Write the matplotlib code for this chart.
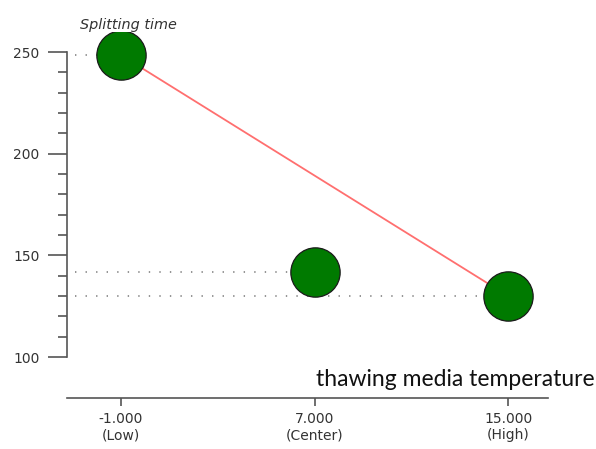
import matplotlib
matplotlib.use("Agg")
import matplotlib.pyplot as plt
from matplotlib.ticker import FixedLocator

# Factor levels and measured response
levels = [-1.0, 7.0, 15.0]
level_names = ["Low", "Center", "High"]
splitting_time = [248.5, 141.8, 130.0]
y_major = [100, 150, 200, 250]
y_minor = [v for v in range(100, 251, 10) if v not in y_major]

W, H = 596, 449
fig = plt.figure(figsize=(W / 100, H / 100), dpi=100)
ax = fig.add_axes([67 / W, (H - 398) / H, (548 - 67) / W, (398 - 31.7) / H])
ax.set_xlim(-3.23, 16.65)
ax.set_ylim(79.84, 260)

axis_col = "#555555"
text_col = "#333333"

for s in ("top", "right"):
    ax.spines[s].set_visible(False)
ax.spines["left"].set_bounds(100, 250)
ax.spines["left"].set_color(axis_col)
ax.spines["bottom"].set_color(axis_col)
ax.spines["left"].set_linewidth(1.2)
ax.spines["bottom"].set_linewidth(1.2)

ax.yaxis.set_major_locator(FixedLocator(y_major))
ax.yaxis.set_minor_locator(FixedLocator(y_minor))
ax.tick_params(axis="y", which="major", length=13.7, width=1.2, color=axis_col,
               pad=6, labelsize=10, labelcolor=text_col)
ax.tick_params(axis="y", which="minor", length=6.5, width=1.2, color=axis_col)
ax.set_xticks(levels)
ax.set_xticklabels([f"{v:.3f}\n({n})" for v, n in zip(levels, level_names)])
ax.tick_params(axis="x", which="major", length=6, width=1.2, color=axis_col,
               pad=4, labelsize=10, labelcolor=text_col)
for lab in ax.get_xticklabels() + ax.get_yticklabels():
    lab.set_fontfamily("DejaVu Sans")

# Dotted reference lines from the y axis to each point
x_start = -2.9
for x, y in zip(levels, splitting_time):
    ax.plot([x_start, x], [y, y], color="#777777", lw=1.1,
            linestyle=(0, (0.9, 6.0)), zorder=1)

# Low–High effect line
ax.plot([levels[0], levels[2]], [splitting_time[0], splitting_time[2]],
        color="#ff6f6f", lw=1.3, zorder=2)

ax.plot(levels, splitting_time, linestyle="none", marker="o", markersize=35.5,
        markerfacecolor="#007a00", markeredgecolor="#1a1a1a",
        markeredgewidth=0.9, zorder=3)

fig.text(80 / W, 1 - 25 / H, "Splitting time", fontsize=10.4, style="italic",
         color=text_col, family="DejaVu Sans", va="center", ha="left")
fig.text(595 / W, 1 - 380 / H, "thawing media temperature", fontsize=16.5,
         color="#111111", family="Lato", va="center", ha="right")

fig.savefig("out.png", dpi=100)
